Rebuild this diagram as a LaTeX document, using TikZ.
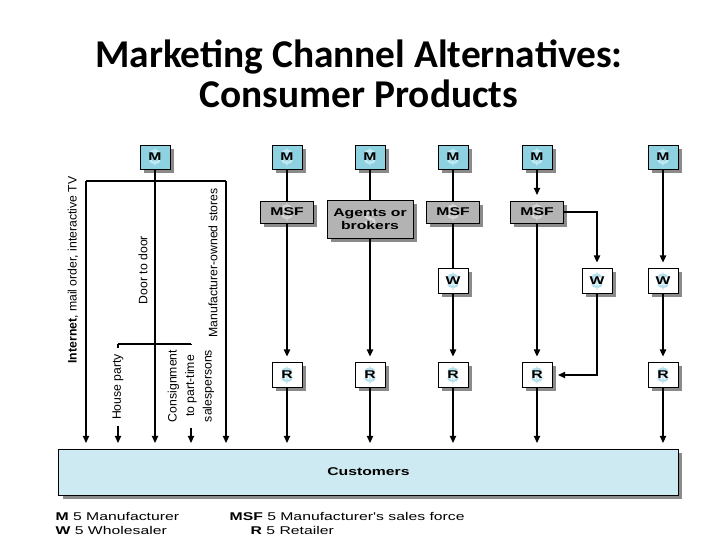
\documentclass[tikz,border=0pt]{standalone}
\usepackage{fontspec}
\setmainfont{Liberation Sans}
\newfontfamily\titlefont{Carlito}
\newfontfamily\widefont[FakeStretch=1.4]{Liberation Sans}
\usetikzlibrary{positioning,shadows,arrows.meta}

\definecolor{mcyan}{HTML}{8ED2E2}
\definecolor{dollarcyan}{HTML}{C4EAF3}
\definecolor{dollarwhite}{HTML}{B2E0EC}
\definecolor{dollargray}{HTML}{D8D8D8}
\definecolor{custblue}{HTML}{CDE9F1}
\definecolor{boxgray}{HTML}{B3B3B3}
\definecolor{shadowgray}{HTML}{8A8A8A}

\tikzset{
  dollar/.style={path picture={\node[text=#1,font=\bfseries\fontsize{15}{15}\selectfont] at (path picture bounding box.center) {\$};}},
  chan/.style={draw, line width=0.6pt, inner sep=0pt, align=center,
    font=\widefont\bfseries\fontsize{8}{9.5}\selectfont,
    drop shadow={shadow xshift=0.09cm, shadow yshift=-0.09cm, fill=shadowgray, opacity=1}},
  mbox/.style={chan, fill=mcyan, dollar=dollarcyan, minimum width=0.75cm, minimum height=0.6cm},
  sbox/.style={chan, fill=boxgray, dollar=dollargray, minimum width=1.33cm, minimum height=0.55cm},
  wbox/.style={chan, fill=white, dollar=dollarwhite, minimum width=0.75cm, minimum height=0.62cm},
  route/.style={rotate=90, inner sep=0.125cm, font=\fontsize{8.7}{10.5}\selectfont},
  flow/.style={-{Triangle[length=0.18cm,width=0.16cm]}, shorten >=0.14cm},
  legend/.style={anchor=west, inner sep=0pt, font=\widefont\fontsize{8}{9}\selectfont}
}

\begin{document}
\begin{tikzpicture}[x=0.025cm, y=-0.025cm, line width=0.9pt]
  \useasboundingbox (0,0) rectangle (720,540);

  % title
  \node[align=center, font=\titlefont\bfseries\fontsize{28}{28.5}\selectfont] (title) at (359,74)
    {Marketing Channel Alternatives:\\Consumer Products};

  % manufacturers
  \node[mbox] (m0) at (155,157) {M};
  \node[mbox] (m1) at (287,157) {M};
  \node[mbox] (m2) at (370,157) {M};
  \node[mbox] (m3) at (453,157) {M};
  \node[mbox] (m4) at (537,157) {M};
  \node[mbox] (m5) at (663,157) {M};

  % sales force and agents
  \node[sbox] (msf1) at (287,212) {MSF};
  \node[sbox, minimum width=2.15cm, minimum height=0.95cm] (agents) at (370,219) {Agents or\\brokers};
  \node[sbox] (msf3) at (453,212) {MSF};
  \node[sbox] (msf4) at (537,212) {MSF};

  % wholesalers
  \node[wbox] (w3) at (453,281) {W};
  \node[wbox] (w4) at (597,281) {W};
  \node[wbox] (w5) at (663,281) {W};

  % retailers
  \node[wbox] (r1) at (287,375) {R};
  \node[wbox] (r2) at (370,375) {R};
  \node[wbox] (r3) at (453,375) {R};
  \node[wbox] (r4) at (537,375) {R};
  \node[wbox] (r5) at (663,375) {R};

  \node[chan, fill=custblue, minimum width=15.475cm, minimum height=1.15cm] (cust) at (368.5,472) {Customers};

  % direct channels
  \coordinate (split) at (155,181);
  \coordinate (lt) at (86,181);
  \coordinate (rt) at (226,181);
  \coordinate (hp) at (118,344);
  \coordinate (cs) at (191,344);
  \node[route] (internet) at (73,270) {\textbf{Internet}, mail order, interactive TV};
  \node[route] (door) at (143,270) {Door to door};
  \node[route] (stores) at (213,263) {Manufacturer-owned stores};
  \node[route] (house) at (118,387) {House party};
  \node[route, align=center, font=\fontsize{8.7}{12.5}\selectfont] (consign) at (191,386)
    {Consignment\\to part-time\\salespersons};
  \draw (lt) -- (rt);
  \draw[flow] (lt) -- (lt |- cust.north);
  \draw[flow] (rt) -- (rt |- cust.north);
  \draw[flow] (m0) -- (m0 |- cust.north);
  \draw (hp) -- (cs);
  \draw (hp) -- (house.east);
  \draw (cs) -- (consign.east);
  \draw[flow] (house.west) -- (house.west |- cust.north);
  \draw[flow] (consign.west) -- (consign.west |- cust.north);

  % indirect channels
  \draw (m1) -- (msf1);
  \draw[flow] (msf1) -- (r1);
  \draw (m2) -- (agents);
  \draw[flow] (agents) -- (r2);
  \draw (m3) -- (msf3);
  \draw (msf3) -- (w3);
  \draw[flow] (w3) -- (r3);
  \draw[flow] (m4) -- (msf4);
  \draw[flow] (msf4) -- (r4);
  \draw[flow] (msf4.east) -| (w4.north);
  \draw[flow] (w4.south) |- (r4.east);
  \draw[flow] (m5) -- (w5);
  \draw[flow] (w5) -- (r5);
  \foreach \r in {r1,r2,r3,r4,r5}
    \draw[flow] (\r) -- (\r |- cust.north);

  % key
  \node[legend] (legm) at (55,516) {\textbf{M} 5 Manufacturer};
  \node[legend] (legw) at (55,530) {\textbf{W} 5 Wholesaler};
  \node[legend] (legmsf) at (229,516) {\textbf{MSF} 5 Manufacturer's sales force};
  \node[legend] (legr) at (250,530) {\textbf{R} 5 Retailer};
\end{tikzpicture}
\end{document}
